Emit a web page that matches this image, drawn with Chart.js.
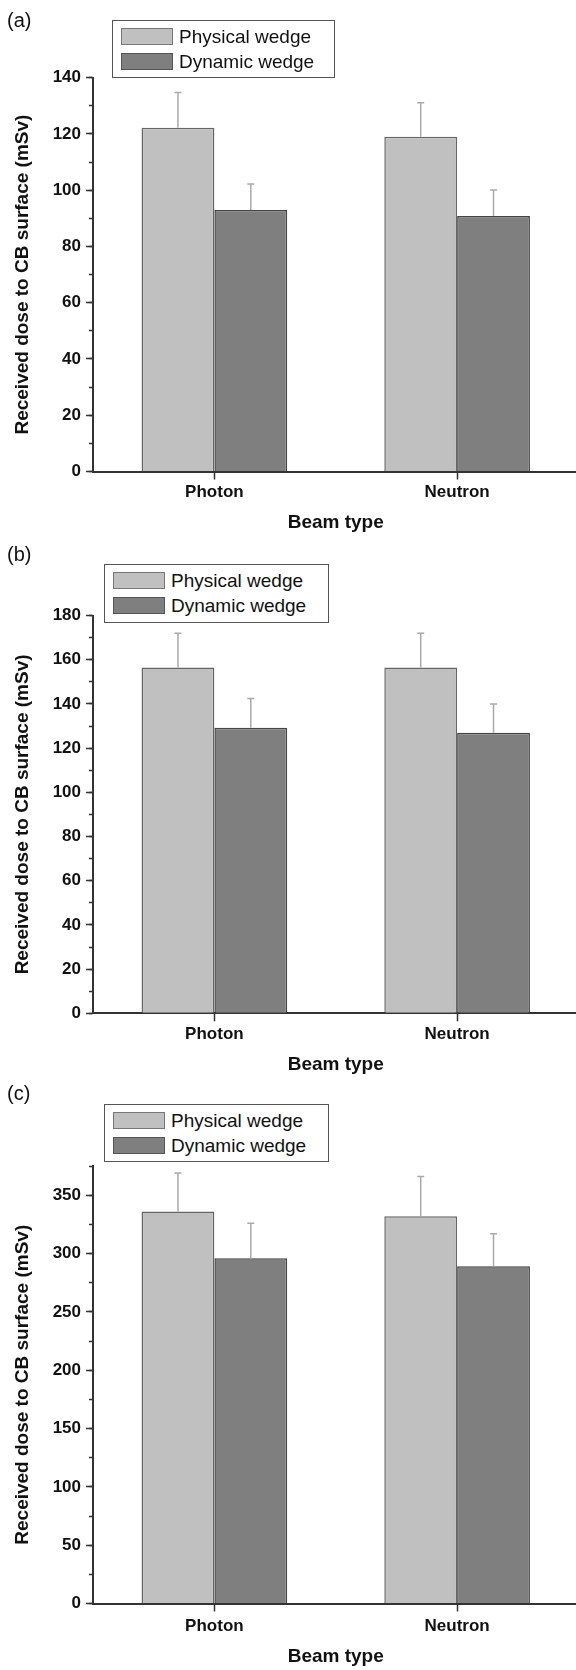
<!DOCTYPE html>
<html><head><meta charset="utf-8">
<script src="https://cdn.jsdelivr.net/npm/chart.js@4.4.1/dist/chart.umd.min.js"></script>
<style>
html,body{margin:0;padding:0;background:#fff;width:576px;height:1670px;overflow:hidden;font-family:"Liberation Sans",Arial,sans-serif;}
.panel{position:absolute;left:0;width:576px;overflow:hidden;}
.plabel{position:absolute;left:7px;font-size:20px;color:#111;line-height:20px;}
.legend{position:absolute;border:1.5px solid #555;background:#fff;box-sizing:border-box;}
.sw{position:absolute;left:8px;width:52px;height:17px;box-sizing:border-box;border:1.5px solid #555;}
.lt{position:absolute;left:66px;font-size:19px;color:#111;line-height:19px;white-space:nowrap;}
</style></head><body>
<script>
// ---- data ----
const categories = ['Photon', 'Neutron'];
const seriesNames = ['Physical wedge', 'Dynamic wedge'];
const panelLabels = ['(a)', '(b)', '(c)'];
const xTitle = 'Beam type';
const yTitle = 'Received dose to CB surface (mSv)';

const physicalA = [122.2, 119.0];
const physicalErrA = [12.5, 12.1];
const dynamicA = [93.0, 90.8];
const dynamicErrA = [9.2, 9.3];

const physicalB = [156.5, 156.5];
const physicalErrB = [15.5, 15.5];
const dynamicB = [129.2, 127.0];
const dynamicErrB = [13.2, 13.0];

const physicalC = [336, 332];
const physicalErrC = [33, 34];
const dynamicC = [296, 289];
const dynamicErrC = [30, 28];

const yMaxes = [140, 180, 375];
const yMajorSteps = [20, 20, 50];
const yMinorSteps = [10, 10, 25];

// ---- layout / style ----
const physicalValues = [physicalA, physicalB, physicalC];
const physicalErrors = [physicalErrA, physicalErrB, physicalErrC];
const dynamicValues = [dynamicA, dynamicB, dynamicC];
const dynamicErrors = [dynamicErrA, dynamicErrB, dynamicErrC];
const seriesFill = ['#c0c0c0', '#7f7f7f'];
const seriesBorder = ['#666666', '#444444'];

const layouts = [
  {top: 0, h: 545, padTop: 77.7, padBottom: 6.5, xH: 67, tickPad: 3, labelTop: 10, legend: {left: 112, top: 20, width: 223, height: 58}},
  {top: 545, h: 540, padTop: 70.5, padBottom: 4.7, xH: 67, tickPad: 3, labelTop: 544, legend: {left: 104, top: 564, width: 225, height: 59}},
  {top: 1084, h: 589, padTop: 82, padBottom: 0.5, xH: 69, tickPad: 4.3, labelTop: 1083, legend: {left: 104, top: 1104, width: 225, height: 58}}
];

const FONT = '"Liberation Sans", Arial, sans-serif';

const errorBarPlugin = {
  id: 'errorBars',
  afterDatasetsDraw(chart) {
    const ctx = chart.ctx;
    const y = chart.scales.y;
    chart.data.datasets.forEach((ds, i) => {
      const meta = chart.getDatasetMeta(i);
      meta.data.forEach((bar, j) => {
        const top = y.getPixelForValue(ds.data[j] + ds.errors[j]);
        ctx.save();
        ctx.strokeStyle = '#a9a9a9';
        ctx.lineWidth = 1.5;
        ctx.beginPath();
        ctx.moveTo(bar.x, bar.y);
        ctx.lineTo(bar.x, top);
        ctx.moveTo(bar.x - 3.5, top);
        ctx.lineTo(bar.x + 3.5, top);
        ctx.stroke();
        ctx.restore();
      });
    });
  }
};

layouts.forEach((L, p) => {
  const panel = document.createElement('div');
  panel.className = 'panel';
  panel.style.top = L.top + 'px';
  panel.style.height = Math.min(L.h, 1670 - L.top) + 'px';
  const canvas = document.createElement('canvas');
  canvas.width = 579;
  canvas.height = L.h;
  canvas.style.width = '579px';
  canvas.style.height = L.h + 'px';
  panel.appendChild(canvas);
  document.body.appendChild(panel);

  const lab = document.createElement('div');
  lab.className = 'plabel';
  lab.style.top = L.labelTop + 'px';
  lab.textContent = panelLabels[p];
  document.body.appendChild(lab);

  const lg = document.createElement('div');
  lg.className = 'legend';
  Object.assign(lg.style, {left: L.legend.left + 'px', top: L.legend.top + 'px', width: L.legend.width + 'px', height: L.legend.height + 'px'});
  seriesNames.forEach((name, k) => {
    const sw = document.createElement('div');
    sw.className = 'sw';
    sw.style.top = (7 + k * 25) + 'px';
    sw.style.background = seriesFill[k];
    sw.style.borderColor = k === 0 ? '#777' : '#555';
    lg.appendChild(sw);
    const t = document.createElement('div');
    t.className = 'lt';
    t.style.top = (6 + k * 24.5) + 'px';
    t.textContent = name;
    lg.appendChild(t);
  });
  document.body.appendChild(lg);

  new Chart(canvas, {
    type: 'bar',
    data: {
      labels: categories,
      datasets: [
        {label: seriesNames[0], data: physicalValues[p], errors: physicalErrors[p], backgroundColor: seriesFill[0], borderColor: seriesBorder[0], borderWidth: 1.5},
        {label: seriesNames[1], data: dynamicValues[p], errors: dynamicErrors[p], backgroundColor: seriesFill[1], borderColor: seriesBorder[1], borderWidth: 1.5}
      ]
    },
    options: {
      responsive: false,
      animation: false,
      devicePixelRatio: 1,
      layout: {padding: {top: L.padTop, bottom: L.padBottom, left: 0, right: 0.5}},
      datasets: {bar: {categoryPercentage: 0.6, barPercentage: 1.0}},
      plugins: {legend: {display: false}, tooltip: {enabled: false}},
      scales: {
        x: {
          grid: {display: true, drawOnChartArea: false, offset: false, tickLength: 8, tickWidth: 1.5, tickColor: '#333'},
          border: {display: true, color: '#333', width: 2},
          ticks: {color: '#111', padding: L.tickPad, font: {family: FONT, size: 17, weight: 'bold'}},
          title: {display: true, text: xTitle, color: '#111', font: {family: FONT, size: 19, weight: 'bold'}, padding: {top: 4, bottom: 4}},
          afterFit: (s) => { s.height = L.xH; }
        },
        y: {
          position: 'left',
          weight: 10,
          min: 0,
          max: yMaxes[p],
          grid: {display: true, drawOnChartArea: false, tickLength: 7, tickWidth: 1.5, tickColor: '#333'},
          border: {display: true, color: '#333', width: 2},
          ticks: {stepSize: yMajorSteps[p], includeBounds: false, color: '#111', padding: 5, font: {family: FONT, size: 17, weight: 'bold'}},
          title: {display: true, text: yTitle, color: '#111', font: {family: FONT, size: 19, weight: 'bold'}, padding: {top: 11.6, bottom: 0}},
          afterFit: (s) => { s.width = 93; }
        },
        yMinor: {
          position: 'left',
          weight: 0,
          min: 0,
          max: yMaxes[p],
          grid: {display: true, drawOnChartArea: false, tickLength: 4, tickWidth: 1.5, tickColor: '#333'},
          border: {display: false},
          ticks: {stepSize: yMinorSteps[p], display: false},
          afterFit: (s) => { s.width = 0; }
        }
      }
    },
    plugins: [errorBarPlugin]
  });
});
</script>
</body></html>
